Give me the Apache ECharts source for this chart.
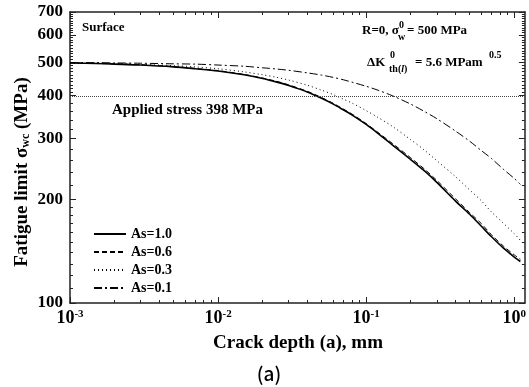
<!DOCTYPE html>
<html>
<head>
<meta charset="utf-8">
<script src="https://cdn.jsdelivr.net/npm/echarts@6/dist/echarts.min.js"></script>
<style>
html, body { margin: 0; padding: 0; background: #fff; }
#chart { width: 529px; height: 387px; }
</style>
</head>
<body>
<div id="chart"></div>
<script>
// crack depth a (mm)
var depth = [0.001, 0.0015, 0.002, 0.003, 0.005, 0.007, 0.01, 0.015, 0.02, 0.025, 0.03, 0.04, 0.05, 0.06, 0.07, 0.08,
    0.1, 0.12, 0.15, 0.2, 0.25, 0.3, 0.4, 0.5, 0.6, 0.7, 0.85, 1.0, 1.1];
// fatigue limit sigma_wc (MPa)
var as10 = [498, 496, 494, 491, 485, 479, 472, 460, 449, 438, 428, 410, 393, 378, 364, 352,
    330, 311, 288, 261, 241, 224, 198, 181, 167, 156, 144, 136, 132];
var as06 = [498, 496, 495, 492, 486, 480, 473, 461, 450, 440, 430, 412, 395, 380, 366, 354,
    332, 313, 291, 264, 244, 227, 201, 183, 170, 158, 146, 138, 134];
var as03 = [498, 497, 496, 493, 489, 485, 479, 469, 460, 452, 444, 429, 415, 403, 391, 381,
    362, 346, 326, 298, 277, 259, 233, 213, 198, 184, 170, 159, 152];
var as01 = [499, 499, 498, 497, 495, 494, 491, 487, 482, 478, 474, 466, 459, 452, 445, 438,
    426, 415, 400, 378, 359, 343, 316, 295, 277, 263, 244, 230, 221];
var appliedStress = 398;

var xMajor = [0.001, 0.01, 0.1, 1];
var xMinor = [0.002, 0.003, 0.004, 0.005, 0.006, 0.007, 0.008, 0.009,
    0.02, 0.03, 0.04, 0.05, 0.06, 0.07, 0.08, 0.09,
    0.2, 0.3, 0.4, 0.5, 0.6, 0.7, 0.8, 0.9];
var yMajor = [100, 200, 300, 400, 500, 600, 700];
var yMinor = [110, 120, 130, 140, 150, 160, 170, 180, 190,
    220, 240, 260, 280, 320, 340, 360, 380,
    410, 420, 430, 440, 450, 460, 470, 480, 490,
    510, 520, 530, 540, 550, 560, 570, 580, 590,
    610, 620, 630, 640, 650, 660, 670, 680, 690];

var SERIF = "'Liberation Serif', 'DejaVu Serif', serif";

function pairs(ys) {
    return depth.map(function (d, i) {
        return [d, ys[i]];
    });
}

function xAx(position, ticks, len, labels, line) {
    return {
        type: "log",
        logBase: 10,
        min: 0.001,
        max: 1.18,
        position: position,
        axisLine: { show: line, onZero: false, lineStyle: { color: "#222", width: 1.5 } },
        axisTick: { inside: true, length: len, customValues: ticks, lineStyle: { color: "#222", width: 1 } },
        axisLabel: labels ? {
            customValues: ticks,
            margin: 6,
            formatter: function (v) {
                return "{b|10}{s|" + Math.round(Math.log10(v)) + "}";
            },
            rich: {
                b: { fontFamily: SERIF, fontWeight: "bold", fontSize: 18, color: "#000" },
                s: { fontFamily: SERIF, fontWeight: "bold", fontSize: 11, color: "#000", verticalAlign: "top", padding: [0, 0, 8, 0] }
            }
        } : { show: false },
        splitLine: { show: false }
    };
}

function yAx(position, ticks, len, labels, line) {
    return {
        type: "log",
        logBase: 10,
        min: 100,
        max: 700,
        position: position,
        axisLine: { show: line, onZero: false, lineStyle: { color: "#222", width: 1.5 } },
        axisTick: { inside: true, length: len, customValues: ticks, lineStyle: { color: "#222", width: 1 } },
        axisLabel: labels ? {
            customValues: ticks,
            margin: 7,
            fontFamily: SERIF,
            fontWeight: "bold",
            fontSize: 17,
            color: "#000"
        } : { show: false },
        splitLine: { show: false }
    };
}

function curve(name, ys, type, width) {
    return {
        name: name,
        type: "line",
        data: pairs(ys),
        symbol: "none",
        smooth: 0.3,
        lineStyle: { color: "#000", width: width, type: type },
        itemStyle: { color: "#000" },
        animation: false
    };
}

var chart = echarts.init(document.getElementById("chart"));

var series = [
    curve("As=1.0", as10, "solid", 1.6),
    curve("As=0.6", as06, [5, 3], 1),
    curve("As=0.3", as03, [1, 3], 1),
    curve("As=0.1", as01, [8, 3, 2, 3], 1)
];
series[0].markLine = {
    silent: true,
    symbol: ["none", "none"],
    label: { show: false },
    lineStyle: { color: "#444", width: 1, type: [1, 1] },
    data: [{ yAxis: appliedStress }],
    animation: false
};

chart.setOption({
    backgroundColor: "#fff",
    animation: false,
    grid: { left: 70, right: 2, top: 12, bottom: 84 },
    xAxis: [
        xAx("bottom", xMajor, 6, true, true),
        xAx("bottom", xMinor, 3, false, false),
        xAx("top", xMajor, 6, false, true),
        xAx("top", xMinor, 3, false, false)
    ],
    yAxis: [
        yAx("left", yMajor, 6, true, true),
        yAx("left", yMinor, 3, false, false),
        yAx("right", yMajor, 6, false, true),
        yAx("right", yMinor, 3, false, false)
    ],
    legend: {
        orient: "vertical",
        left: 88,
        top: 222,
        itemWidth: 32,
        itemHeight: 14,
        itemGap: 4,
        itemStyle: { opacity: 0 },
        textStyle: { fontFamily: SERIF, fontWeight: "bold", fontSize: 14, color: "#000" },
        data: ["As=1.0", "As=0.6", "As=0.3", "As=0.1"]
    },
    series: series,
    graphic: [
        {
            type: "text", x: 22, y: 172, rotation: Math.PI / 2,
            style: {
                text: "{m|Fatigue limit σ}{s|wc}{m| (MPa)}",
                align: "center", verticalAlign: "middle",
                rich: {
                    m: { fontFamily: SERIF, fontWeight: "bold", fontSize: 19, fill: "#000" },
                    s: { fontFamily: SERIF, fontWeight: "bold", fontSize: 12, fill: "#000", verticalAlign: "bottom" }
                }
            }
        },
        {
            type: "text", x: 298, y: 343,
            style: { text: "Crack depth (a), mm", align: "center", verticalAlign: "middle",
                fontFamily: SERIF, fontWeight: "bold", fontSize: 19, fill: "#000" }
        },
        {
            type: "text", x: 269, y: 374,
            style: { text: "(a)", align: "center", verticalAlign: "middle",
                fontFamily: "'Noto Sans CJK JP', 'Noto Sans', sans-serif", fontWeight: 500, fontSize: 19, fill: "#000" }
        },
        {
            type: "text", x: 82, y: 28,
            style: { text: "Surface", verticalAlign: "middle",
                fontFamily: SERIF, fontWeight: "bold", fontSize: 13, fill: "#000" }
        },
        {
            type: "text", x: 112, y: 110,
            style: { text: "Applied stress 398 MPa", verticalAlign: "middle",
                fontFamily: SERIF, fontWeight: "bold", fontSize: 15, fill: "#000" }
        },
        // R=0, sigma_w^0 = 500 MPa
        { type: "text", x: 362, y: 31, style: { text: "R=0, σ", verticalAlign: "middle", fontFamily: SERIF, fontWeight: "bold", fontSize: 13, fill: "#000" } },
        { type: "text", x: 399, y: 25, style: { text: "0", verticalAlign: "middle", fontFamily: SERIF, fontWeight: "bold", fontSize: 10, fill: "#000" } },
        { type: "text", x: 398, y: 37, style: { text: "w", verticalAlign: "middle", fontFamily: SERIF, fontWeight: "bold", fontSize: 10, fill: "#000" } },
        { type: "text", x: 407, y: 31, style: { text: "= 500 MPa", verticalAlign: "middle", fontFamily: SERIF, fontWeight: "bold", fontSize: 13, fill: "#000" } },
        // dK_th(l)^0 = 5.6 MPam^0.5
        { type: "text", x: 367, y: 63, style: { text: "ΔK", verticalAlign: "middle", fontFamily: SERIF, fontWeight: "bold", fontSize: 13, fill: "#000" } },
        { type: "text", x: 390, y: 55, style: { text: "0", verticalAlign: "middle", fontFamily: SERIF, fontWeight: "bold", fontSize: 10, fill: "#000" } },
        {
            type: "text", x: 389, y: 69,
            style: {
                text: "{a|th(}{i|l}{a|)}", verticalAlign: "middle",
                rich: {
                    a: { fontFamily: SERIF, fontWeight: "bold", fontSize: 10, fill: "#000" },
                    i: { fontFamily: SERIF, fontWeight: "bold", fontStyle: "italic", fontSize: 10, fill: "#000" }
                }
            }
        },
        { type: "text", x: 415, y: 63, style: { text: "= 5.6 MPam", verticalAlign: "middle", fontFamily: SERIF, fontWeight: "bold", fontSize: 13, fill: "#000" } },
        { type: "text", x: 489, y: 55, style: { text: "0.5", verticalAlign: "middle", fontFamily: SERIF, fontWeight: "bold", fontSize: 10, fill: "#000" } }
    ]
});
</script>
</body>
</html>
